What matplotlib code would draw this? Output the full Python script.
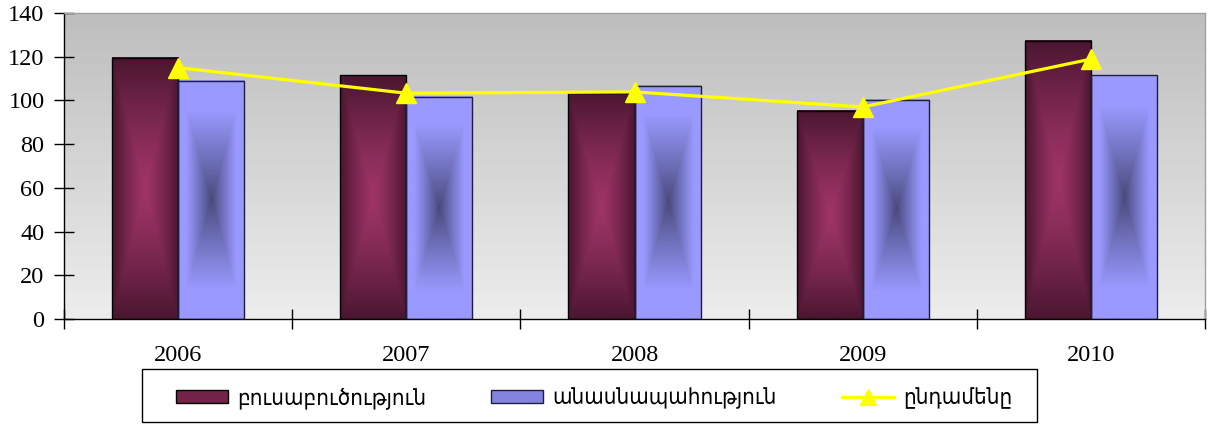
import numpy as np
import matplotlib
matplotlib.use("Agg")
import matplotlib.pyplot as plt
from matplotlib.patches import Rectangle
from matplotlib.lines import Line2D
from matplotlib.colors import to_rgb

years = ["2006", "2007", "2008", "2009", "2010"]
crop = [119.5, 111.5, 103.5, 95.3, 127.2]      # բուսաբուծություն
livestock = [109.0, 101.6, 106.7, 100.2, 111.6]  # անասնապահություն
total = [115.0, 103.3, 103.9, 97.0, 118.9]       # ընդամենը
labels = ["բուսաբուծություն", "անասնապահություն", "ընդամենը"]
yticks = [0, 20, 40, 60, 80, 100, 120, 140]

W, H = 1212, 424
fig = plt.figure(figsize=(W / 100, H / 100), dpi=100)
ax = fig.add_axes([64 / W, 1 - 319 / H, (1205 - 64) / W, (319 - 13) / H])

# background gradient
g = np.linspace(236, 190, 24)[:, None] / 255.0
bg = np.dstack([g, g, g])
ax.imshow(bg, extent=[0, 1, 0, 1], transform=ax.transAxes, aspect="auto",
          origin="lower", zorder=0, interpolation="nearest")

def rect_field(nx=60, ny=200):
    u = np.linspace(-1, 1, nx)[None, :]
    v = np.linspace(-1, 1, ny)[:, None]
    return np.maximum(np.abs(u) * np.ones_like(v), np.abs(v) * np.ones_like(u))

def grad_img(c_center, c_edge, power, scale):
    t = np.clip(rect_field() / scale, 0, 1) ** power
    a = np.array(to_rgb(c_center))
    b = np.array(to_rgb(c_edge))
    return a[None, None, :] * (1 - t[..., None]) + b[None, None, :] * t[..., None]

img_crop = grad_img("#9e3466", "#4a1630", 1.3, 1.0)
img_live = grad_img("#474878", "#9999ff", 0.9, 0.75)

bw = 0.29
x = np.arange(len(years))
for i in range(len(years)):
    for xc, val, img in [(x[i] - bw / 2, crop[i], img_crop),
                         (x[i] + bw / 2, livestock[i], img_live)]:
        ax.imshow(img, extent=[xc - bw / 2, xc + bw / 2, 0, val], aspect="auto",
                  origin="lower", zorder=2, interpolation="bilinear")
ax.bar(x - bw / 2, crop, bw, facecolor="none", edgecolor="black", lw=1.0, zorder=3)
ax.bar(x + bw / 2, livestock, bw, facecolor="none", edgecolor="#1e1e40", lw=1.0, zorder=3)
ax.plot(x, total, color="#ffff00", lw=2.3, marker="^", markersize=14,
        markeredgecolor="#ffff00", zorder=4, clip_on=False)

ax.set_xlim(-0.5, 4.5)
ax.set_ylim(0, 140)
ax.set_aspect("auto")

ax.set_yticks(yticks)
ax.set_yticklabels([str(v) for v in yticks])
ax.tick_params(axis="y", direction="inout", length=14, width=1, pad=7,
               labelsize=17.5, labelfontfamily="Liberation Serif")
ax.set_xticks(np.arange(-0.5, 5, 1.0))
ax.set_xticklabels([])
ax.set_xticks(x, minor=True)
ax.set_xticklabels(years, minor=True, fontsize=17.5, fontfamily="Liberation Serif")
ax.tick_params(axis="x", which="major", direction="inout", length=14, width=1)
ax.tick_params(axis="x", which="minor", length=0, pad=19)

for s in ["left", "bottom"]:
    ax.spines[s].set_color("black")
    ax.spines[s].set_linewidth(1.0)
for s in ["top", "right"]:
    ax.spines[s].set_color("#a0a0a0")
    ax.spines[s].set_linewidth(1.0)

# legend frame
fig.patches.append(Rectangle((142 / W, 1 - 422 / H), (1037 - 142) / W, (422 - 369) / H,
                             transform=fig.transFigure, facecolor="white",
                             edgecolor="black", lw=1.0, zorder=1))

h1 = Rectangle((0, 0), 1, 1, facecolor="#74234a", edgecolor="black", lw=1)
h2 = Rectangle((0, 0), 1, 1, facecolor="#8484e0", edgecolor="#1e1e40", lw=1)
h3 = Line2D([], [], color="#ffff00", lw=2.3, marker="^", markersize=12, markeredgecolor="#ffff00")

leg = fig.legend([h1, h2, h3], labels, ncol=3, loc="center",
                 bbox_to_anchor=(176 / W, 1 - 414 / H, (1012 - 176) / W, 32 / H),
                 mode="expand", borderaxespad=0, frameon=False, borderpad=0,
                 handlelength=2.35, handleheight=0.55, handletextpad=0.4,
                 prop={"family": "DejaVu Sans", "size": 16, "stretch": "condensed"})
leg.set_zorder(2)

fig.savefig("out.png", dpi=100)
